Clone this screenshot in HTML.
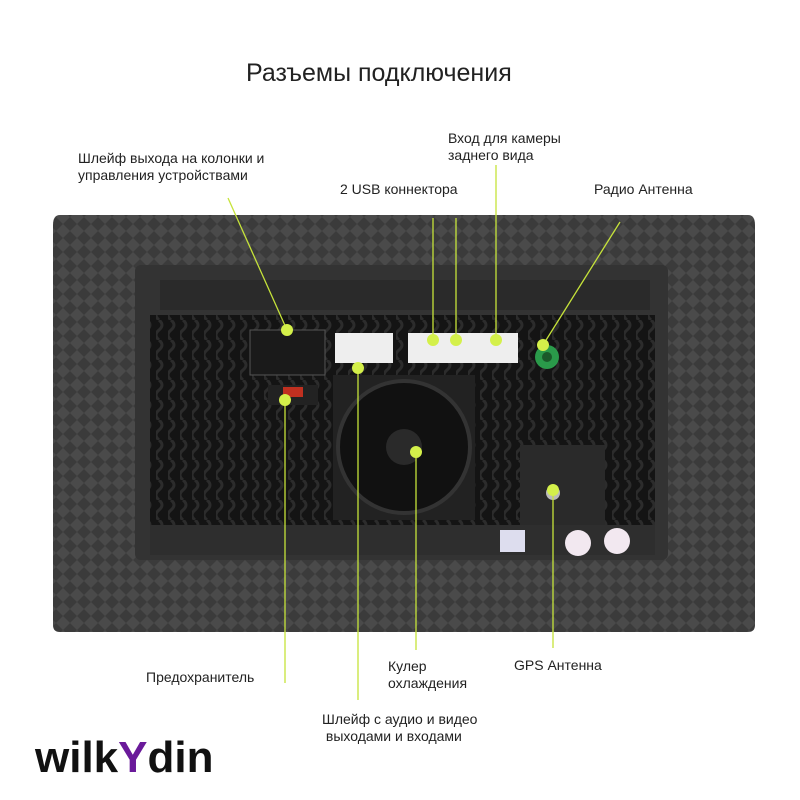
<!DOCTYPE html>
<html><head><meta charset="utf-8"><style>
body{margin:0;background:#fff;width:800px;height:800px;overflow:hidden;position:relative;font-family:"Liberation Sans",sans-serif}
.t{position:absolute;font-size:14px;color:#222;line-height:17px}
</style></head><body>
<svg width="800" height="800" style="position:absolute;left:0;top:0">
<defs>
<pattern id="cb" width="14" height="14" patternUnits="userSpaceOnUse">
<rect width="14" height="14" fill="#3b3b3b"/><path d="M0 7L7 0L14 7L7 14Z" fill="#4a4a4a"/>
</pattern>
<pattern id="vent" width="12" height="20" patternUnits="userSpaceOnUse">
<rect width="12" height="20" fill="#141414"/><path d="M3 0Q9 5 3 10Q-3 15 3 20" stroke="#2c2c2c" stroke-width="3" fill="none"/>
</pattern>
</defs>
<path d="M60 215H748Q755 215 755 225V625Q755 632 748 632H60Q53 632 53 625V225Q53 215 60 215Z" fill="url(#cb)"/>
<rect x="135" y="265" width="533" height="295" rx="6" fill="#333"/>
<rect x="150" y="315" width="505" height="210" fill="url(#vent)"/>
<rect x="150" y="525" width="505" height="30" fill="#2e2e2e"/>
<rect x="160" y="280" width="490" height="30" fill="#2a2a2a"/>
<rect x="333" y="375" width="142" height="145" fill="#222"/>
<circle cx="404" cy="447" r="66" fill="#111" stroke="#333" stroke-width="4"/>
<circle cx="404" cy="447" r="18" fill="#2a2a2a"/>
<rect x="520" y="445" width="85" height="80" fill="#2a2a2a"/>
<rect x="250" y="330" width="75" height="45" fill="#1a1a1a" stroke="#555"/>
<rect x="268" y="385" width="50" height="20" fill="#222"/><rect x="283" y="387" width="20" height="10" fill="#c03020"/>
<rect x="335" y="333" width="58" height="30" fill="#eee"/>
<rect x="408" y="333" width="110" height="30" fill="#eee"/>
<circle cx="547" cy="357" r="12" fill="#2a9a4a"/><circle cx="547" cy="357" r="5" fill="#1a5a2a"/>
<circle cx="553" cy="493" r="7" fill="#bbb"/>
<circle cx="578" cy="543" r="13" fill="#f2e8f0"/><circle cx="617" cy="541" r="13" fill="#f2e8f0"/>
<rect x="500" y="530" width="25" height="22" fill="#dde"/>
<g stroke="#c6e33a" stroke-width="1.3" fill="none">
<line x1="228" y1="198" x2="287" y2="330"/>
<line x1="285" y1="400" x2="285" y2="683"/>
<line x1="433" y1="218" x2="433" y2="340"/>
<line x1="456" y1="218" x2="456" y2="340"/>
<line x1="496" y1="165" x2="496" y2="340"/>
<line x1="620" y1="222" x2="543" y2="345"/>
<line x1="416" y1="452" x2="416" y2="650"/>
<line x1="358" y1="368" x2="358" y2="700"/>
<line x1="553" y1="490" x2="553" y2="648"/>
</g>
<g fill="#d4f04a">
<circle cx="287" cy="330" r="6"/><circle cx="285" cy="400" r="6"/><circle cx="433" cy="340" r="6"/>
<circle cx="456" cy="340" r="6"/><circle cx="496" cy="340" r="6"/><circle cx="543" cy="345" r="6"/>
<circle cx="416" cy="452" r="6"/><circle cx="358" cy="368" r="6"/><circle cx="553" cy="490" r="6"/>
</g>
</svg>
<div class="t" style="left:246px;top:58px;font-size:25px;line-height:30px">Разъемы подключения</div>
<div class="t" style="left:78px;top:150px">Шлейф выхода на колонки и<br>управления устройствами</div>
<div class="t" style="left:448px;top:130px">Вход для камеры<br>заднего вида</div>
<div class="t" style="left:340px;top:181px">2 USB коннектора</div>
<div class="t" style="left:594px;top:181px">Радио Антенна</div>
<div class="t" style="left:146px;top:669px">Предохранитель</div>
<div class="t" style="left:388px;top:658px">Кулер<br>охлаждения</div>
<div class="t" style="left:514px;top:657px">GPS Антенна</div>
<div class="t" style="left:322px;top:711px">Шлейф с аудио и видео<br>&nbsp;выходами и входами</div>
<div style="position:absolute;left:35px;top:730px;font-size:44px;font-weight:bold;color:#111;letter-spacing:0px;line-height:55px">wilk<span style="color:#6a1a9a">Y</span>din</div>
</body></html>
